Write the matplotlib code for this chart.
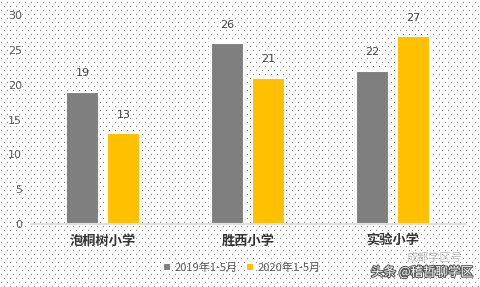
import matplotlib
matplotlib.use("Agg")
import matplotlib.pyplot as plt
import matplotlib.patheffects as pe
import numpy as np

plt.rcParams['font.family'] = ['Noto Sans CJK SC', 'DejaVu Sans']

categories = ["泡桐树小学", "胜西小学", "实验小学"]
series_names = ["2019年1-5月", "2020年1-5月"]
values_2019 = [19, 26, 22]
values_2020 = [13, 21, 27]
yticks = [0, 5, 10, 15, 20, 25, 30]

W, H = 480, 287
fig = plt.figure(figsize=(W / 100, H / 100), dpi=100)
fig.patch.set_facecolor("white")

# dotted background pattern (decoration)
pattern = np.ones((H, W, 3))
for r, yy in enumerate(range(2, H, 4)):
    off = 0 if r % 2 == 0 else 3
    pattern[yy, off + 1::6, :] = 0.5
fig.figimage(pattern, xo=0, yo=0, zorder=0, origin="upper")

ax = fig.add_axes([30.5 / W, 63 / H, 435 / W, 209 / H], zorder=1)
ax.patch.set_alpha(0)
x = np.arange(len(categories))
bw = 33 / 145
gap = 8 / 145
b1 = ax.bar(x - (bw + gap) / 2, values_2019, bw, color="#7f7f7f",
            edgecolor="white", linewidth=1.5, label=series_names[0])
b2 = ax.bar(x + (bw + gap) / 2, values_2020, bw, color="#ffc000",
            edgecolor="white", linewidth=1.5, label=series_names[1])
for bars in (b1, b2):
    for rect in bars:
        h = rect.get_height()
        ax.text(rect.get_x() + rect.get_width() / 2, h + 1.9, f"{h:g}",
                ha="center", va="bottom", fontsize=8, color="#404040",
                family=["DejaVu Sans"])

ax.set_xlim(-0.5, len(categories) - 0.5)
ax.set_ylim(0, 30)
ax.set_yticks(yticks)
ax.set_yticklabels([str(t) for t in yticks], fontsize=8, color="#595959",
                   family=["DejaVu Sans"])
ax.set_xticks(x)
ax.set_xticklabels(categories, fontsize=9.5, fontweight="bold", color="#333333")
ax.tick_params(axis="both", length=0)
ax.tick_params(axis="x", pad=7)
ax.tick_params(axis="y", pad=6)
for s in ["top", "right", "left"]:
    ax.spines[s].set_visible(False)
ax.spines["bottom"].set_color("#d9d9d9")
ax.spines["bottom"].set_linewidth(1.2)

leg = fig.legend(handles=[b1, b2], labels=series_names, loc="center",
                 bbox_to_anchor=(242 / W, 1 - 268 / H), ncol=2, frameon=False,
                 fontsize=8, handlelength=0.7, handleheight=0.7,
                 handletextpad=0.3, columnspacing=0.8)
for t in leg.get_texts():
    t.set_color("#595959")

# watermark
fig.text(434 / W, 1 - 257 / H, "成都学区号", fontsize=8, color="#aaaaaa",
         ha="center", va="center", alpha=0.8)
fig.text(422 / W, 1 - 272 / H, "头条 @稽哲聊学区", fontsize=9, color="white",
         ha="center", va="center",
         path_effects=[pe.withStroke(linewidth=1.5, foreground="#555555")])

fig.savefig("out.png", dpi=100, facecolor="white")
